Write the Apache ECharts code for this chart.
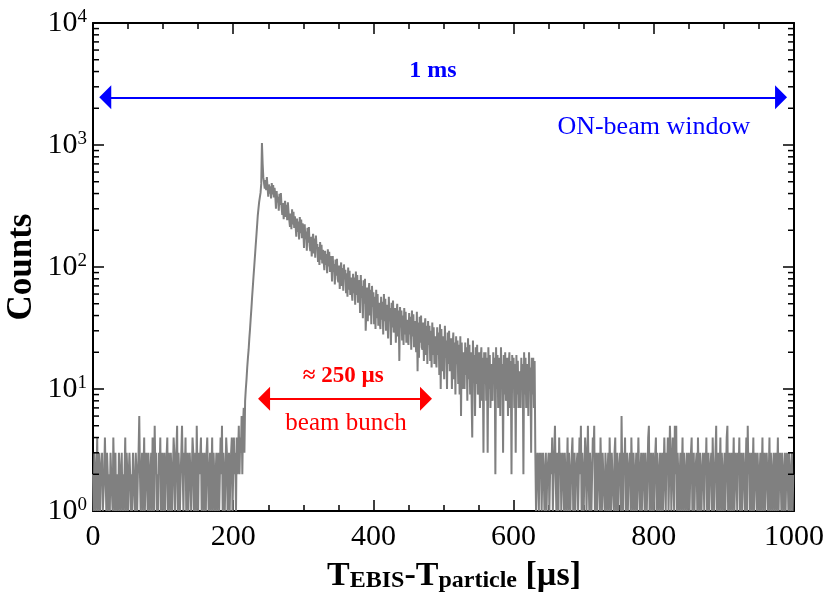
<!DOCTYPE html>
<html><head><meta charset="utf-8">
<script src="https://cdn.jsdelivr.net/npm/echarts@6/dist/echarts.min.js"></script>
<style>html,body{margin:0;padding:0;background:#fff}#c{width:827px;height:601px}</style>
</head><body><div id="c"></div>
<script>
const FONT = "'Liberation Serif','Times New Roman',serif";
const binWidth = 1; // µs per histogram bin

// counts per 1 µs bin (values <=1 sit on the axis floor)
const baseLeftStart = 0;
const baseLeft = [
2,1,3,2,1,2,4,1,2,3,1,2,2,3,1,1,2,4,2,1,
3,2,1,2,1,3,2,2,1,4,2,1,3,1,2,2,1,3,2,1,
2,3,1,2,1,2,4,1,3,2,1,2,3,2,1,2,1,3,2,2,
1,3,2,1,2,3,6,2,1,2,3,1,2,4,1,2,3,2,1,3,
2,1,2,3,1,4,2,1,5,2,3,1,2,1,3,2,4,1,2,3,
1,2,3,1,2,2,4,1,3,2,1,3,2,1,2,4,3,1,2,2,
5,1,3,2,1,2,3,5,2,1,3,2,4,1,2,3,1,2,3,2,
1,2,4,3,1,2,3,1,5,2,1,3,2,2,4,1,3,2,1,3,
2,1,3,4,2,1,2,3,1,2,4,1,3,2,1,2,3,1,2,3,
1,2,4,2,5,1,3,2,1,2,4,3,1,2,3,1,2,3,4,1,
2,4,2,3,1,4,2,3,5,2,4,3
];
const riseStart = 212;
const rise = [6,2,5,7,3,8,10,12,15,18,21,26,31,38,46,57,69,84,101,122,148,178,215,262,300,340,372,405,480,1040,700,540];
const decayStart = 244;
const decay = [
534,439,516,427,546,451,
377,475,400,458,365,487,394,469,371,446,
387,300,420,338,376,289,398,322,404,311,
267,334,247,313,349,257,324,242,339,278,
288,213,274,204,297,223,283,209,260,218,
177,249,194,236,168,257,189,245,172,228,
202,143,224,169,195,136,210,158,213,150,
135,177,122,164,187,129,171,119,181,142,
154,110,146,104,160,115,152,107,138,112,
94,136,104,128,89,140,101,133,91,123,
110,76,123,91,106,72,115,85,117,80,
75,103,66,94,109,70,98,64,105,79,
95,61,89,57,99,65,93,59,82,63,
53,88,61,82,49,92,59,86,51,78,
74,42,86,56,70,38,78,50,80,30,
44,68,36,61,74,40,65,34,70,47,
62,34,57,31,65,38,60,33,51,36,
31,57,37,52,28,60,36,55,30,49,
48,26,57,36,46,23,51,32,53,29,
29,46,24,41,50,27,44,17,47,32,
44,25,40,23,46,28,43,24,37,26,
23,42,28,39,21,44,27,41,22,36,
37,20,43,14,35,18,39,24,40,22,
21,35,17,31,38,19,33,16,36,23,
33,17,30,15,35,19,32,16,27,18,
15,32,19,29,13,34,10,31,14,27,
27,12,33,18,25,10,29,16,30,14,
14,26,10,22,29,12,24,9,27,16,
25,11,23,9,27,6,24,10,20,12,
10,24,13,22,8,26,12,23,9,20,
20,4,25,13,19,6,22,11,23,9,
10,20,7,17,22,8,18,3,20,11,
20,8,18,3,22,10,19,7,16,9,
8,20,11,18,2,22,10,19,7,17,
18,6,22,11,16,3,19,9,20,8,
9,18,6,15,20,7,17,2,19,10,
18,7,16,3,19,9,17,7,14,8,
7,18,10,16,2,20,9,18,7,15,
16,6,20,11,15,3,18,9,18,7,17
];
const baseRightStart = 631;
const baseRight = [
3,1,2,3,2,1,3,2,3,1,2,3,2,1,2,3,1,2,2,3,
1,2,3,2,4,1,2,3,5,2,1,3,2,1,4,2,3,1,2,3,
2,1,3,2,1,2,4,1,3,2,1,2,3,4,1,2,3,1,2,2,
3,1,2,4,2,5,1,3,2,1,2,4,3,1,2,5,2,1,3,2,
1,2,4,3,5,1,2,3,1,2,3,2,1,4,2,1,3,2,2,1,
3,2,1,2,3,1,4,2,1,3,2,2,1,3,4,1,2,3,1,2,
2,3,1,6,2,1,3,2,4,1,2,3,1,2,2,3,1,4,2,1,
3,2,1,2,3,1,2,4,4,1,2,3,1,2,3,2,1,3,2,1,
2,4,5,1,2,3,1,2,3,1,2,2,4,1,3,2,1,2,3,1,
2,3,1,2,4,2,1,3,2,4,1,2,5,3,1,2,4,2,1,5,
2,5,1,3,2,1,2,3,1,2,4,1,3,2,1,2,3,1,2,3,
1,2,3,4,1,2,3,1,2,2,3,1,4,2,1,3,2,1,2,3,
2,1,3,2,4,1,2,3,1,2,2,3,1,4,2,1,2,3,5,1,
2,3,1,2,4,1,3,2,1,2,3,1,2,4,5,1,2,3,1,2,
3,1,2,4,1,2,3,2,1,3,2,4,1,2,3,1,2,3,2,1,
2,4,1,5,2,3,1,2,3,1,2,4,1,2,3,2,1,3,2,1,
2,3,1,2,4,1,2,3,1,2,3,2,1,2,4,1,3,2,1,2,
3,1,2,3,1,2,4,1,2,3,2,1,3,2,1,2,3,1,2,3,
2,1,3,2,1,2,3,1,2
];

const xRange = [0, 1000];
const yRange = [1, 10000];
const yMinorTicks = [2,3,4,5,6,7,8,9,20,30,40,50,60,70,80,90,200,300,400,500,600,700,800,900,2000,3000,4000,5000,6000,7000,8000,9000];

const blueArrow = { from: [17.5, 2460], to: [981.5, 2460] };
const redArrow  = { from: [244, 8.3],  to: [475, 8.3] };
const annotations = [
  { text: '1 ms',           at: [485, 4045], color: '#0000ff', weight: 'bold',   size: 24 },
  { text: 'ON-beam window', at: [800, 1405], color: '#0000ff', weight: 'normal', size: 26 },
  { text: '≈ 250 µs',       at: [357, 12.8], color: '#ff0000', weight: 'bold',   size: 23 },
  { text: 'beam bunch',     at: [361, 5.2],  color: '#ff0000', weight: 'normal', size: 25 }
];

function toPairs(start, arr) { return arr.map((v, i) => [start + i * binWidth, v]); }
const counts = [].concat(
  toPairs(baseLeftStart, baseLeft),
  toPairs(riseStart, rise),
  toPairs(decayStart, decay),
  toPairs(baseRightStart, baseRight)
);

const chart = echarts.init(document.getElementById('c'), null, { renderer: 'canvas' });

const axisLine = { show: true, onZero: false, lineStyle: { color: '#000', width: 2 } };
const tickStyle = { color: '#000', width: 1.5 };

function xAx(pos, showLabel) {
  return {
    type: 'value', min: xRange[0], max: xRange[1], interval: 200, position: pos,
    axisLine: axisLine,
    axisTick: { show: true, inside: true, length: 11, lineStyle: tickStyle },
    minorTick: { show: true, splitNumber: 4, length: 6, lineStyle: tickStyle },
    splitLine: { show: false }, minorSplitLine: { show: false },
    axisLabel: { show: showLabel, fontSize: 30, fontFamily: FONT, color: '#000', margin: 11,
      formatter: v => String(v) }
  };
}
function yAx(pos, showLabel) {
  return {
    type: 'log', logBase: 10, min: yRange[0], max: yRange[1], position: pos,
    axisLine: axisLine,
    axisTick: { show: true, inside: true, length: 11, lineStyle: tickStyle },
    splitLine: { show: false },
    axisLabel: {
      show: showLabel, margin: 6,
      formatter: v => '{b|10}{s|' + Math.round(Math.log10(v)) + '}',
      rich: {
        b: { fontSize: 30, fontFamily: FONT, color: '#000', lineHeight: 30 },
        s: { fontSize: 19, fontFamily: FONT, color: '#000', lineHeight: 19, verticalAlign: 'top' }
      }
    }
  };
}

chart.setOption({
  animation: false,
  grid: { left: 93, right: 33, top: 23, bottom: 90, containLabel: false },
  xAxis: [xAx('bottom', true), xAx('top', false)],
  yAxis: [yAx('left', true), yAx('right', false)],
  series: [
    {
      type: 'line', data: counts, xAxisIndex: 0, yAxisIndex: 0,
      showSymbol: false, symbol: 'none', silent: true, z: 2,
      lineStyle: { color: '#808080', width: 2 },
      markLine: {
        silent: true, symbol: ['triangle', 'triangle'], symbolSize: [24, 12],
        label: { show: false }, animation: false,
        data: [
          [ { coord: blueArrow.from, lineStyle: { color: '#0000ff', width: 2, type: 'solid' } }, { coord: blueArrow.to } ],
          [ { coord: redArrow.from,  lineStyle: { color: '#ff0000', width: 2, type: 'solid' } }, { coord: redArrow.to } ]
        ]
      }
    },
    {
      type: 'custom', xAxisIndex: 0, yAxisIndex: 0, silent: true, z: 10,
      data: yMinorTicks.map(v => [xRange[0], v]),
      renderItem: (params, api) => {
        const v = api.value(1);
        const l = api.coord([xRange[0], v]);
        const r = api.coord([xRange[1], v]);
        return { type: 'group', children: [
          { type: 'line', shape: { x1: l[0], y1: l[1], x2: l[0] + 6, y2: l[1] }, style: { stroke: '#000', lineWidth: 1.5 } },
          { type: 'line', shape: { x1: r[0], y1: r[1], x2: r[0] - 6, y2: r[1] }, style: { stroke: '#000', lineWidth: 1.5 } }
        ]};
      }
    }
  ]
});

const graphics = annotations.map(a => {
  const p = chart.convertToPixel({ xAxisIndex: 0, yAxisIndex: 0 }, a.at);
  return { type: 'text', x: p[0], y: p[1], z: 20, style: {
    text: a.text, fill: a.color, fontSize: a.size, fontWeight: a.weight, fontFamily: FONT,
    align: 'center', verticalAlign: 'middle' } };
});
graphics.push({ type: 'text', x: 22, y: 267, rotation: Math.PI / 2, z: 20, style: {
  text: 'Counts', fill: '#000', fontSize: 35, fontWeight: 'bold', fontFamily: FONT,
  align: 'center', verticalAlign: 'middle' } });
graphics.push({ type: 'text', x: 454, y: 576, z: 20, style: {
  text: '{m|T}{s|EBIS}{m|-T}{s|particle}{m| [µs]}',
  align: 'center', verticalAlign: 'middle',
  rich: {
    m: { fontSize: 34, fontWeight: 'bold', fontFamily: FONT, fill: '#000', color: '#000', lineHeight: 34, verticalAlign: 'bottom' },
    s: { fontSize: 24, fontWeight: 'bold', fontFamily: FONT, fill: '#000', color: '#000', lineHeight: 26, verticalAlign: 'bottom' }
  } } });
chart.setOption({ graphic: graphics });
</script>
</body></html>
